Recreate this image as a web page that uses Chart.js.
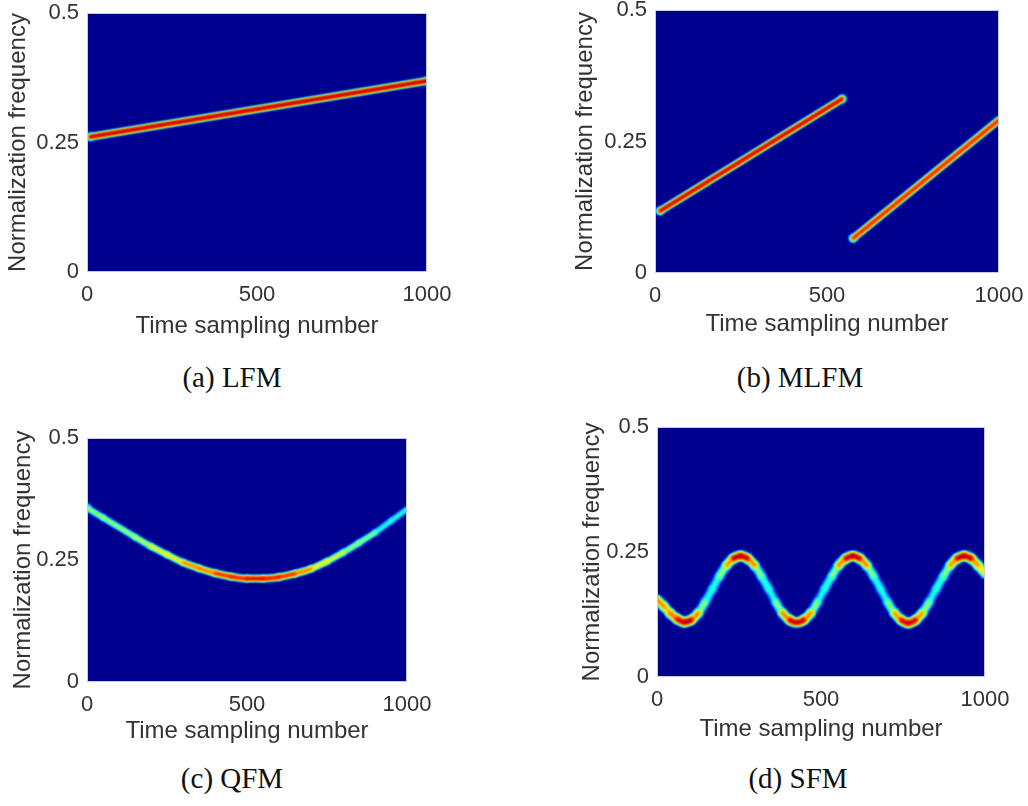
<!DOCTYPE html>
<html>
<head>
<meta charset="utf-8">
<script src="https://cdn.jsdelivr.net/npm/chart.js@4.4.1/dist/chart.umd.min.js"></script>
<style>
  html, body { margin: 0; padding: 0; background: #fff; overflow: hidden; }
  body { width: 1028px; height: 806px; position: relative; }
  canvas { position: absolute; }
  .caption {
    position: absolute;
    font-family: "Liberation Serif", "Times New Roman", serif;
    font-size: 29px;
    color: #111;
    transform: translate(-50%, -50%);
    white-space: nowrap;
  }
</style>
</head>
<body>
<script>
Chart.defaults.font.family = '"Liberation Sans", Arial, Helvetica, sans-serif';
Chart.defaults.color = '#333';

// axis ticks shared by all four panels
const tickX = [0, 500, 1000];
const tickY = [0, 0.25, 0.5];

// ridge of each time-frequency map (time sample, normalized frequency)
const lfmTime = [10, 1000];
const lfmFreq = [0.261, 0.369];

const mlfmTime = [15, 544, 560, 576, 1000];
const mlfmFreq = [0.118, 0.331, null, 0.066, 0.291];

const qfmTime = [0, 50, 100, 150, 200, 250, 300, 350, 400, 450, 500, 550, 600, 650, 700, 750, 800, 850, 900, 950, 1000];
const qfmFreq = [0.357, 0.337, 0.317, 0.297, 0.278, 0.261, 0.245, 0.233, 0.223, 0.216, 0.212, 0.212, 0.215, 0.222, 0.232, 0.247, 0.265, 0.285, 0.306, 0.330, 0.354];

const sfmTime = [0, 20, 41, 62, 83, 104, 126, 147, 169, 190, 212, 233, 255, 276, 298, 319, 341, 362, 383, 405, 426,
  447, 469, 490, 511, 533, 554, 576, 597, 618, 640, 661, 682, 703, 724, 745, 766, 788, 809, 830, 851, 873, 894, 915, 936, 958, 979, 1000];
const sfmFreq = [0.155, 0.142, 0.127, 0.116, 0.110, 0.114, 0.128, 0.150, 0.176, 0.201, 0.223, 0.237, 0.242, 0.237, 0.223, 0.201, 0.176, 0.150, 0.128, 0.114, 0.109,
  0.114, 0.128, 0.150, 0.176, 0.201, 0.223, 0.237, 0.242, 0.237, 0.223, 0.201, 0.176, 0.150, 0.128, 0.114, 0.108, 0.114, 0.128, 0.150, 0.176, 0.201, 0.223, 0.237, 0.242, 0.237, 0.223, 0.207];

const captions = ['(a) LFM', '(b) MLFM', '(c) QFM', '(d) SFM'];

// MATLAB-style jet colormap
function jet(v) {
  const c = x => Math.round(255 * Math.max(0, Math.min(1, 1.5 - Math.abs(x))));
  return 'rgb(' + c(4 * v - 3) + ',' + c(4 * v - 2) + ',' + c(4 * v - 1) + ')';
}
const levels = [0.96, 0.88, 0.76, 0.64, 0.52, 0.4, 0.28, 0.15];
// soft spots where a chirp starts or stops
const blobRadius = { 0.4: 3.2, 0.28: 4.3, 0.15: 5.2 };

// one line dataset per colour level; steeper segments get a weaker peak
function ridgeLayers(time, freq, p) {
  const pts = time.map((t, i) => ({ x: t, y: freq[i] }));
  const ends = p.ends || [];
  const peak = ctx => {
    const dx = Math.abs(ctx.p1.x - ctx.p0.x) || 1;
    const s = Math.abs(ctx.p1.y - ctx.p0.y) / dx;
    return p.peak * Math.exp(-Math.pow(s / p.s0, p.k));
  };
  return levels.map(level => ({
    data: pts,
    borderColor: jet(level),
    borderWidth: 1,
    borderCapStyle: 'round',
    borderJoinStyle: 'round',
    pointRadius: ctx => (ends.includes(ctx.dataIndex) && blobRadius[level]) || 0,
    pointBackgroundColor: jet(level),
    pointBorderWidth: 0,
    fill: false,
    clip: 0,
    spanGaps: false,
    tension: p.smooth ? 0.4 : 0,
    cubicInterpolationMode: p.smooth ? 'monotone' : 'default',
    segment: {
      borderWidth: ctx => {
        const P = peak(ctx);
        return P > level ? p.width * Math.sqrt(1 - level / P) : 1;
      },
      borderColor: ctx => (peak(ctx) > level ? jet(level) : 'rgba(0,0,0,0)')
    }
  }));
}

const panelFrame = {
  id: 'panelFrame',
  beforeDraw(chart) {
    const a = chart.chartArea, c = chart.ctx;
    c.save();
    c.fillStyle = '#00008f';
    c.fillRect(a.left, a.top, a.right - a.left, a.bottom - a.top);
    c.restore();
  },
  beforeDatasetsDraw(chart) {
    chart.ctx.save();
    chart.ctx.filter = 'blur(0.8px)';
  },
  afterDatasetsDraw(chart) {
    const a = chart.chartArea, c = chart.ctx;
    c.restore();
    c.save();
    c.strokeStyle = '#c9c9e6';
    c.lineWidth = 1;
    c.strokeRect(a.left + 0.5, a.top + 0.5, a.right - a.left - 1, a.bottom - a.top - 1);
    c.restore();
  }
};

function makePanel(box, datasets, caption) {
  const left = Math.round(box.yTitle - 14.4);
  const top = box.t - 30;
  const right = box.r + 35;
  const bottom = Math.round(box.xTitle + 14.4);
  const canvas = document.createElement('canvas');
  canvas.width = right - left;
  canvas.height = bottom - top;
  canvas.style.left = left + 'px';
  canvas.style.top = top + 'px';
  document.body.appendChild(canvas);

  new Chart(canvas, {
    type: 'line',
    data: { datasets: datasets },
    options: {
      responsive: false,
      animation: false,
      events: [],
      layout: { padding: { top: 30, right: 35, left: 0, bottom: 0 } },
      plugins: { legend: { display: false }, tooltip: { enabled: false } },
      scales: {
        x: {
          type: 'linear', min: 0, max: 1000,
          grid: { display: false, drawTicks: false },
          border: { display: false },
          afterBuildTicks: s => { s.ticks = tickX.map(v => ({ value: v })); },
          afterFit: s => { s.height = bottom - box.b; },
          ticks: { font: { size: 22 }, padding: 10, maxRotation: 0, autoSkip: false, callback: v => String(v) },
          title: { display: true, text: 'Time sampling number', font: { size: 24 }, padding: 0 }
        },
        y: {
          type: 'linear', min: 0, max: 0.5,
          grid: { display: false, drawTicks: false },
          border: { display: false },
          afterBuildTicks: s => { s.ticks = tickY.map(v => ({ value: v })); },
          afterFit: s => { s.width = box.l - left; },
          ticks: { font: { size: 22 }, padding: 8, autoSkip: false, callback: v => String(v) },
          title: { display: true, text: 'Normalization frequency', font: { size: 24 }, padding: 0 }
        }
      }
    },
    plugins: [panelFrame]
  });

  const cap = document.createElement('div');
  cap.className = 'caption';
  cap.textContent = caption;
  cap.style.left = box.capX + 'px';
  cap.style.top = box.capY + 'px';
  document.body.appendChild(cap);
}

makePanel({ l: 87, t: 13, r: 427, b: 272, yTitle: 18, xTitle: 327, capX: 232, capY: 377 },
  ridgeLayers(lfmTime, lfmFreq, { width: 8, peak: 1.0, s0: 5, k: 2, smooth: false, ends: [0, 1] }), captions[0]);
makePanel({ l: 655, t: 10, r: 999, b: 273, yTitle: 585, xTitle: 325, capX: 800, capY: 377 },
  ridgeLayers(mlfmTime, mlfmFreq, { width: 8, peak: 1.0, s0: 1.64, k: 4, smooth: false, ends: [0, 1, 3] }), captions[1]);
makePanel({ l: 87, t: 438, r: 407, b: 682, yTitle: 23, xTitle: 732, capX: 232, capY: 778 },
  ridgeLayers(qfmTime, qfmFreq, { width: 8, peak: 0.97, s0: 0.9, k: 2.07, smooth: true, ends: [0] }), captions[2]);
makePanel({ l: 657, t: 427, r: 985, b: 677, yTitle: 592, xTitle: 730, capX: 798, capY: 778 },
  ridgeLayers(sfmTime, sfmFreq, { width: 12, peak: 1.02, s0: 2.13, k: 1.87, smooth: true }), captions[3]);
</script>
</body>
</html>
